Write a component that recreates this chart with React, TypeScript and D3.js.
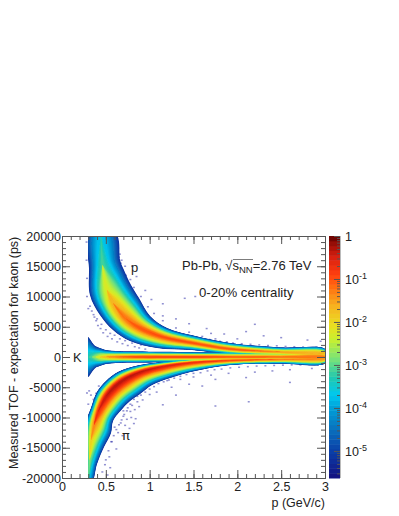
import React, { useEffect, useRef } from 'react';
import * as d3 from 'd3';

// band curves: ridge line, the two visible edges and the log10 peak density
const protonRidgeP = [0.445, 0.462, 0.513, 0.582, 0.719, 0.89, 1.152, 1.494, 1.916, 2.487, 3.0];
const protonRidgeT = [20330, 15200, 11080, 8930, 6450, 4790, 3310, 2310, 1320, 830, 580];
const protonOuterP = [0.616, 0.662, 0.696, 0.787, 0.878, 1.004, 1.198, 1.517, 1.916, 2.487, 3.0];
const protonOuterT = [20330, 16030, 14700, 11900, 9750, 6780, 4790, 3470, 2310, 1570, 1320];
const protonInnerP = [0.3, 0.308, 0.319, 0.433, 0.582, 0.776, 1.084, 1.483, 1.916, 2.487, 3.0];
const protonInnerT = [20330, 14700, 10250, 6940, 4460, 2640, 1490, 1160, 500, 100, -100];
const protonPeak = [-3.7, -3.1, -2.2, -1.6, -1.2, -1.0, -0.95, -0.95, -1.0, -1.4, -1.6];

const kaonRidgeP = [0.28, 0.3, 0.34, 0.38, 0.43, 0.5, 0.65, 0.85, 1.15, 1.5, 2.0, 2.5, 3.0];
const kaonRidgeT = [0, 0, 0, 0, 0, 0, 0, 0, 0, 0, 0, 0, 0];
const kaonUpperT = [3400, 3300, 2500, 1800, 1500, 1150, 950, 900, 850, 800, 780, 800, 820];
const kaonLowerT = [-3400, -3300, -2500, -1800, -1500, -1150, -950, -900, -850, -800, -780, -800, -820];
const kaonPeak = [-3.4, -3.3, -3.1, -2.7, -2.2, -1.7, -1.2, -0.9, -0.8, -0.85, -1.0, -1.1, -1.2];

const pionRidgeP = [0.3, 0.314, 0.331, 0.365, 0.411, 0.49, 0.57, 0.696, 0.89, 1.152, 1.494, 1.916, 2.487, 3.0];
const pionRidgeT = [-20660, -17030, -13720, -11240, -9090, -6780, -5290, -3800, -2480, -1570, -910, -580, -410, -330];
const pionOuterP = [0.342, 0.399, 0.479, 0.559, 0.582, 0.696, 0.776, 0.89, 1.027, 1.232, 1.517, 1.916, 2.487, 3.0];
const pionOuterT = [-20660, -17690, -14880, -12560, -10580, -8430, -7270, -6120, -4630, -3470, -2310, -1320, -1100, -1050];
const pionInnerP = [0.285, 0.262, 0.262, 0.274, 0.331, 0.399, 0.502, 0.639, 0.867, 1.141, 1.494, 1.916, 2.487, 3.0];
const pionInnerT = [-20330, -17030, -13720, -10740, -8430, -5790, -3970, -2480, -1410, -830, -300, 0, 200, 300];
const pionPeak = [-3.8, -2.8, -1.9, -1.3, -0.7, -0.4, -0.3, -0.3, -0.35, -0.5, -0.7, -0.9, -1.2, -1.4];

// isolated low-count bins
const strayP = [0.6, 0.63, 0.66, 0.7, 0.72, 0.75, 0.78, 0.8, 0.83, 0.86, 0.88, 0.92, 0.7, 0.74, 0.79, 0.84, 0.67, 0.72, 0.77, 0.82, 0.6, 0.64, 0.69, 0.57, 0.62, 0.54, 0.49, 0.55, 0.46, 0.52,
  0.285, 0.31, 0.33, 0.36, 0.39, 0.3, 0.42,
  1.0, 1.08, 1.15, 1.3, 1.45, 1.6, 1.75, 2.1, 1.75, 2.13, 2.6, 1.2, 1.35, 1.5, 1.7, 1.9, 2.2, 2.4, 2.6, 2.85, 1.25,
  0.8, 0.85, 0.95, 1.02, 1.15, 1.4, 1.52, 1.15, 1.3, 1.45, 1.65, 1.85, 2.1, 2.3, 2.5, 2.8, 2.95, 2.0, 1.7, 2.2,
  0.36, 0.4, 0.45, 0.5, 0.55, 0.6, 0.66, 0.72, 0.8, 0.9, 1.0, 1.15,
  0.62, 0.64, 0.66, 0.68, 0.72, 0.73, 0.78, 0.82, 0.9, 0.98, 1.05, 1.15, 1.3, 1.45, 1.6, 1.75,
  0.28, 0.28, 0.285, 0.285, 0.3,
  // fringe hugging the band edges
  0.61, 0.63, 0.65, 0.67, 0.69, 0.71, 0.74, 0.76, 0.79, 0.81, 0.84, 0.87, 0.91, 0.94, 0.97, 1.01, 1.04, 1.08, 1.12, 1.18, 1.22, 1.27, 1.33, 1.38, 1.43, 1.55, 1.62, 1.68, 1.8, 1.88, 1.95, 2.05, 2.15, 2.25, 2.35, 2.45, 2.55, 2.65, 2.75, 2.9,
  0.32, 0.34, 0.37, 0.39, 0.41, 0.44, 0.47, 0.52, 0.57, 0.63, 0.69, 0.75, 0.83, 0.88, 0.95,
  0.5, 0.53, 0.56, 0.59, 0.62, 0.65, 0.68, 0.71, 0.74, 0.78, 0.82, 0.86, 0.9, 0.95, 1.0, 1.05, 1.1, 1.16, 1.22, 1.28, 1.35, 1.42, 1.5, 1.58, 1.66, 1.74, 1.82, 1.92, 2.02, 2.12, 2.22, 2.32, 2.42, 2.52, 2.62, 2.72, 2.82, 2.92];
const strayT = [-7000, -7600, -8200, -8900, -7800, -8400, -9000, -8000, -8700, -7400, -8200, -7100, -9800, -10300, -10000, -10200, -10900, -11300, -11800, -11000, -11600, -12500, -13000, -14000, -15200, -16500, -17800, -18300, -19000, -19500,
  -5950, -5600, -6300, -7000, -6000, -7800, -4800,
  -6200, -5800, -7900, -6300, -4500, -4800, -3700, -3400, -8100, -7400, -4200, -3900, -3700, -3300, -3000, -2700, -2500, -2300, -2100, -1900, -5000,
  15000, 13300, 11000, 9500, 8800, 9700, 10000, 6800, 6300, 5500, 4700, 3800, 4200, 3500, 3200, 2800, 2600, 3000, 3900, 5400,
  7000, 6300, 5400, 4500, 3900, 3600, 3000, 2700, 2300, 2000, 1900, 1500,
  19000, 18000, 17000, 16000, 15000, 13500, 12800, 11500, 10000, 8300, 7200, 6000, 4800, 4100, 3400, 3000,
  19000, 16000, 13000, 10000, 8000,
  19800, 17600, 16500, 15500, 14400, 13000, 12100, 11000, 10400, 9200, 8700, 8000, 7200, 6800, 6300, 5900, 5500, 5200, 5000, 4500, 4300, 4000, 3800, 3600, 3500, 3100, 2900, 2900, 2600, 2500, 2300, 2200, 2100, 2000, 1900, 1850, 1750, 1700, 1650, 1600,
  8400, 7600, 6600, 6000, 5200, 4700, 4000, 3400, 3000, 2500, 2200, 1900, 1700, 1500, 1300,
  -17000, -15500, -14000, -13000, -12000, -11200, -10400, -9500, -8900, -7800, -7000, -6500, -6300, -5800, -5300, -4900, -4400, -4100, -3800, -3500, -3200, -2900, -2700, -2600, -2300, -2100, -2000, -1800, -1700, -1600, -1500, -1450, -1400, -1350, -1300, -1300, -1250, -1250];

const paletteLog = [-5.63, -5, -4.5, -4, -3.7, -3.3, -2.9, -2.4, -2.1, -1.6, -1.2, -0.9, -0.5, -0.2, 0];
const paletteColors = ['#14107f', '#0a3fa8', '#0a70bc', '#00a0d8', '#00c8f0', '#20c8b0', '#70e080', '#c8f030', '#e8e020', '#f8b020', '#ff7010', '#ff4010', '#d82010', '#a01008', '#600000'];
const colorbarDecades = [0, -1, -2, -3, -4, -5];

const FONT = '"Liberation Sans", Arial, sans-serif';
const TICK_COLOR = '#555';

export default function App() {
  const svgRef = useRef<SVGSVGElement>(null);

  useEffect(() => {
    const svg = d3.select(svgRef.current);
    svg.selectAll('*').remove();

    const left = 62, right = 325, top = 236, bottom = 478;
    const x = d3.scaleLinear().domain([0, 3]).range([left, right]);
    const y = d3.scaleLinear().domain([-20000, 20000]).range([bottom, top]);
    const color = d3.scaleLinear<string>().domain(paletteLog).range(paletteColors).clamp(true);

    const defs = svg.append('defs');
    defs.append('clipPath').attr('id', 'heat-clip').append('rect')
      .attr('x', x(0.297)).attr('y', top).attr('width', right - x(0.297)).attr('height', bottom - top);
    defs.append('clipPath').attr('id', 'plot-clip').append('rect')
      .attr('x', left).attr('y', top).attr('width', right - left).attr('height', bottom - top);
    defs.append('filter').attr('id', 'soft').append('feGaussianBlur').attr('stdDeviation', 0.6);

    // stray bins under the bands
    svg.append('g').attr('clip-path', 'url(#plot-clip)')
      .selectAll('rect').data(strayP).enter().append('rect')
      .attr('x', d => x(d) - 1)
      .attr('y', (d, i) => y(strayT[i]) - 0.75)
      .attr('width', 2)
      .attr('height', 1.5)
      .attr('fill', '#3434ac')
      .attr('opacity', 0.55);

    const bands = [
      { p: protonRidgeP, t: protonRidgeT, upP: protonOuterP, upT: protonOuterT, loP: protonInnerP, loT: protonInnerT, peak: protonPeak },
      { p: kaonRidgeP, t: kaonRidgeT, upP: kaonRidgeP, upT: kaonUpperT, loP: kaonRidgeP, loT: kaonLowerT, peak: kaonPeak },
      { p: pionRidgeP, t: pionRidgeT, upP: pionOuterP, upT: pionOuterT, loP: pionInnerP, loT: pionInnerT, peak: pionPeak },
    ];

    const floor = -5.2;
    const levels = d3.range(floor, 0, 0.1);
    const contour = d3.line<[number, number]>()
      .x(d => x(d[0]))
      .y(d => y(d[1]))
      .curve(d3.curveCatmullRomClosed.alpha(0.5));

    const heat = svg.append('g').attr('clip-path', 'url(#heat-clip)').append('g').attr('filter', 'url(#soft)');
    // levels go low to high over all bands so a weak band never paints over a strong one
    levels.forEach(level => {
      bands.forEach(b => {
        const frac = b.peak.map(pk => (pk <= level ? 0 : Math.pow((pk - level) / (pk - floor), 0.7)));
        // only the stretch above this level, plus one pinched sample at each end
        const keep = b.p.map((_, i) => i).filter(i => frac[i] > 0 || frac[i - 1] > 0 || frac[i + 1] > 0);
        if (keep.length < 2 || !keep.some(i => frac[i] > 0)) return;
        const upper = keep.map(i => [b.p[i] + frac[i] * (b.upP[i] - b.p[i]), b.t[i] + frac[i] * (b.upT[i] - b.t[i])] as [number, number]);
        const lower = keep.map(i => [b.p[i] + frac[i] * (b.loP[i] - b.p[i]), b.t[i] + frac[i] * (b.loT[i] - b.t[i])] as [number, number]);
        heat.append('path')
          .attr('d', contour(upper.concat(lower.reverse())))
          .attr('fill', color(level + 0.05));
      });
    });

    // frame and ticks, inside on all four sides like ROOT draws them
    const styleAxis = (g: any) => {
      g.select('.domain').remove();
      g.selectAll('line').attr('stroke', TICK_COLOR);
      g.selectAll('text').attr('font-family', FONT).attr('font-size', 12.5).attr('fill', '#222');
    };
    const xMajor = d3.range(0, 3.01, 0.5);
    const xMinor = d3.range(0, 3.01, 0.1);
    const yMajor = d3.range(-20000, 20001, 5000);
    const yMinor = d3.range(-20000, 20001, 1000);

    svg.append('g').attr('transform', `translate(0,${bottom})`)
      .call(d3.axisBottom(x).tickValues(xMinor).tickSize(-4).tickFormat(() => '')).call(styleAxis);
    svg.append('g').attr('transform', `translate(0,${bottom})`)
      .call(d3.axisBottom(x).tickValues(xMajor).tickSize(-8).tickPadding(4.5).tickFormat(d => String(d))).call(styleAxis);
    svg.append('g').attr('transform', `translate(0,${top})`)
      .call(d3.axisTop(x).tickValues(xMinor).tickSize(-4).tickFormat(() => '')).call(styleAxis);
    svg.append('g').attr('transform', `translate(0,${top})`)
      .call(d3.axisTop(x).tickValues(xMajor).tickSize(-8).tickFormat(() => '')).call(styleAxis);

    svg.append('g').attr('transform', `translate(${left},0)`)
      .call(d3.axisLeft(y).tickValues(yMinor).tickSize(-4).tickFormat(() => '')).call(styleAxis);
    svg.append('g').attr('transform', `translate(${left},0)`)
      .call(d3.axisLeft(y).tickValues(yMajor).tickSize(-8).tickPadding(1).tickFormat(d => String(d))).call(styleAxis);
    svg.append('g').attr('transform', `translate(${right},0)`)
      .call(d3.axisRight(y).tickValues(yMinor).tickSize(-4).tickFormat(() => '')).call(styleAxis);
    svg.append('g').attr('transform', `translate(${right},0)`)
      .call(d3.axisRight(y).tickValues(yMajor).tickSize(-8).tickFormat(() => '')).call(styleAxis);

    svg.append('rect')
      .attr('x', left + 0.5).attr('y', top + 0.5)
      .attr('width', right - left).attr('height', bottom - top)
      .attr('fill', 'none').attr('stroke', TICK_COLOR);

    // colour bar
    const barLeft = 329, barRight = 340;
    const barY = d3.scaleLinear().domain([-5.63, 0]).range([bottom, top]);
    const barSteps = d3.range(-5.63, 0, 0.1126);
    svg.append('g').selectAll('rect').data(barSteps).enter().append('rect')
      .attr('x', barLeft)
      .attr('y', d => barY(d + 0.1126))
      .attr('width', barRight - barLeft)
      .attr('height', d => barY(d) - barY(d + 0.1126) + 0.5)
      .attr('fill', d => color(d + 0.056));

    const barMinor = colorbarDecades.flatMap(e => d3.range(2, 10).map(m => e - 1 + Math.log10(m))).filter(v => v > -5.63);
    svg.append('g').attr('transform', `translate(${barRight},0)`)
      .call(d3.axisRight(barY).tickValues(barMinor).tickSize(-3).tickFormat(() => '')).call(styleAxis);
    svg.append('g').attr('transform', `translate(${barRight},0)`)
      .call(d3.axisRight(barY).tickValues(colorbarDecades).tickSize(-6).tickFormat(() => '')).call(styleAxis);
    svg.append('line')
      .attr('x1', barRight + 0.5).attr('x2', barRight + 0.5).attr('y1', top).attr('y2', bottom)
      .attr('stroke', '#bbb');

    const barLabels = svg.append('g').attr('font-family', FONT).attr('font-size', 12.5).attr('fill', '#222');
    colorbarDecades.forEach(e => {
      const label = barLabels.append('text').attr('x', 345).attr('y', barY(e) + 5);
      if (e === 0) {
        label.text('1');
      } else {
        label.append('tspan').text('10');
        label.append('tspan').attr('font-size', 9).attr('dy', -5).text(String(e));
      }
    });

    // titles
    const titles = svg.append('g').attr('font-family', FONT).attr('font-size', 12.5).attr('fill', '#222');
    titles.append('text').attr('x', right).attr('y', 507).attr('text-anchor', 'end').text('p (GeV/c)');
    titles.append('text')
      .attr('transform', `translate(18,${bottom - 9}) rotate(-90)`)
      .text('Measured TOF - expectation for kaon (ps)');

    titles.append('text').attr('x', 131).attr('y', 272).attr('font-size', 13).text('p');
    titles.append('text').attr('x', 73).attr('y', 362).attr('font-size', 13).text('K');
    titles.append('text').attr('x', 122).attr('y', 440).attr('font-size', 13).attr('font-family', '"DejaVu Sans", sans-serif').text('π');

    const energy = titles.append('text').attr('x', 182).attr('y', 270).attr('font-size', 13);
    energy.append('tspan').text('Pb-Pb, √');
    energy.append('tspan').text('s');
    energy.append('tspan').attr('font-size', 9.5).attr('dy', 3).text('NN');
    energy.append('tspan').attr('dy', -3).text('=2.76 TeV');
    titles.append('line').attr('x1', 233).attr('x2', 253).attr('y1', 259.5).attr('y2', 259.5).attr('stroke', '#444').attr('stroke-width', 0.7);
    titles.append('text').attr('x', 199).attr('y', 297).attr('font-size', 13.2).text('0-20% centrality');
  }, []);

  return <svg ref={svgRef} width={399} height={516} viewBox="0 0 399 516" style={{ position: 'absolute', left: 0, top: 0 }}></svg>;
}
